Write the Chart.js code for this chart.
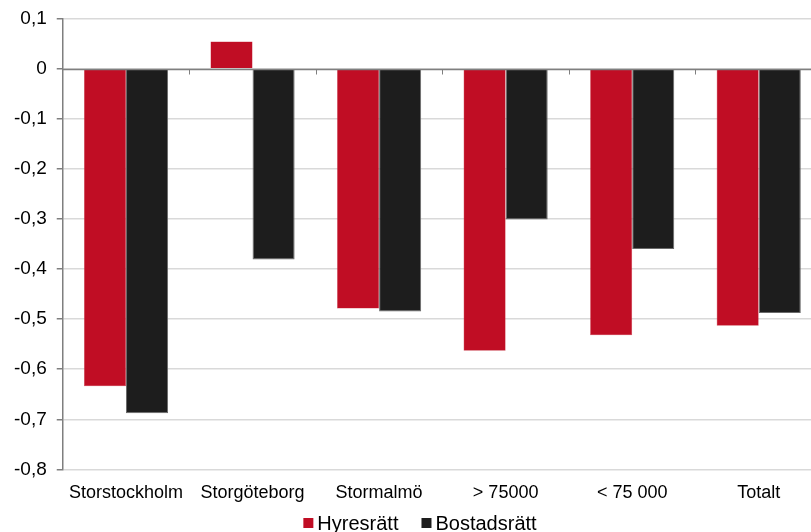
<!DOCTYPE html>
<html lang="sv">
<head>
<meta charset="utf-8">
<title>Förändring per region</title>
<script src="https://cdn.jsdelivr.net/npm/chart.js@4.4.1/dist/chart.umd.min.js"></script>
<style>
  html, body { margin: 0; padding: 0; background: #ffffff; overflow: hidden; }
  #wrap { width: 840px; height: 532px; position: relative; }
</style>
</head>
<body>
<div id="wrap"><canvas id="chart"></canvas></div>
<script>
// Regions / groups along the x axis
const categories = ['Storstockholm', 'Storgöteborg', 'Stormalmö', '> 75000', '< 75 000', 'Totalt'];

// Change per tenure form
const hyresratt   = [-0.634, 0.054, -0.479, -0.563, -0.532, -0.513];
const bostadsratt = [-0.688, -0.381, -0.485, -0.301, -0.360, -0.488];

// Value axis
const yMin = -0.8;
const yMax = 0.1;
const yStep = 0.1;

const FONT = 'Liberation Sans, Arial, sans-serif';

function formatTick(v) {
  const r = Math.round(v * 10) / 10;
  if (r === 0) return '0';
  return r.toFixed(1).replace('.', ',');
}

// Zero line with short category separator ticks hanging below it
const zeroAxis = {
  id: 'zeroAxis',
  afterDatasetsDraw(chart) {
    const { ctx, chartArea, scales } = chart;
    const x = scales.x, y = scales.y;
    const y0 = Math.round(y.getPixelForValue(0)) + 0.5;
    ctx.save();
    ctx.strokeStyle = '#7f7f7f';
    ctx.lineWidth = 1.5;
    ctx.beginPath();
    ctx.moveTo(chartArea.left, y0);
    ctx.lineTo(chartArea.right, y0);
    ctx.stroke();
    ctx.lineWidth = 1;
    ctx.beginPath();
    for (let i = 0; i < categories.length - 1; i++) {
      const bx = Math.round((x.getPixelForValue(i) + x.getPixelForValue(i + 1)) / 2) + 0.5;
      ctx.moveTo(bx, y0);
      ctx.lineTo(bx, y0 + 5);
    }
    ctx.stroke();
    ctx.restore();
  }
};

// Compact legend row under the category labels: square swatch, small gap, name
const seriesLegend = {
  id: 'seriesLegend',
  afterDraw(chart) {
    const { ctx, width, height } = chart;
    const box = 10, textGap = 4, itemGap = 23;
    const cy = height - 9;
    ctx.save();
    ctx.font = '20px ' + FONT;
    ctx.textBaseline = 'middle';
    ctx.textAlign = 'left';
    const items = chart.data.datasets.map(ds => ({
      label: ds.label,
      color: ds.backgroundColor,
      w: ctx.measureText(ds.label).width
    }));
    const total = items.reduce((s, it) => s + box + textGap + it.w, 0) + itemGap * (items.length - 1);
    let x = width / 2 - total / 2;
    items.forEach(it => {
      ctx.fillStyle = it.color;
      ctx.fillRect(x, cy - box / 2, box, box);
      x += box + textGap;
      ctx.fillStyle = '#000000';
      ctx.fillText(it.label, x, cy + 1);
      x += it.w + itemGap;
    });
    ctx.restore();
  }
};

new Chart(document.getElementById('chart'), {
  type: 'bar',
  data: {
    labels: categories,
    datasets: [
      {
        label: 'Hyresrätt',
        data: hyresratt,
        backgroundColor: '#c00d24',
        borderColor: '#c9404f',
        borderWidth: 0.5,
        barPercentage: 1.0,
        categoryPercentage: 0.665
      },
      {
        label: 'Bostadsrätt',
        data: bostadsratt,
        backgroundColor: '#1d1d1d',
        borderColor: '#6a6a6a',
        borderWidth: 1,
        barPercentage: 1.0,
        categoryPercentage: 0.665
      }
    ]
  },
  options: {
    responsive: true,
    maintainAspectRatio: false,
    animation: false,
    layout: { padding: { top: 0, right: 18, left: 4, bottom: 15 } },
    plugins: {
      legend: { display: false },
      tooltip: { enabled: false },
      title: { display: false }
    },
    scales: {
      x: {
        grid: { display: false, drawTicks: false },
        border: { display: false },
        ticks: {
          color: '#000000',
          font: { family: FONT, size: 18 },
          padding: 13,
          maxRotation: 0,
          autoSkip: false
        }
      },
      y: {
        min: yMin,
        max: yMax,
        border: { display: true, color: '#7f7f7f', width: 1.5 },
        grid: {
          color: '#d9d9d9',
          lineWidth: 1.5,
          tickColor: '#7f7f7f',
          tickLength: 6,
          tickWidth: 1.5
        },
        ticks: {
          stepSize: yStep,
          color: '#000000',
          font: { family: FONT, size: 19, lineHeight: 0.9 },
          padding: 10,
          callback: (v) => formatTick(v)
        }
      }
    }
  },
  plugins: [zeroAxis, seriesLegend]
});
</script>
</body>
</html>
